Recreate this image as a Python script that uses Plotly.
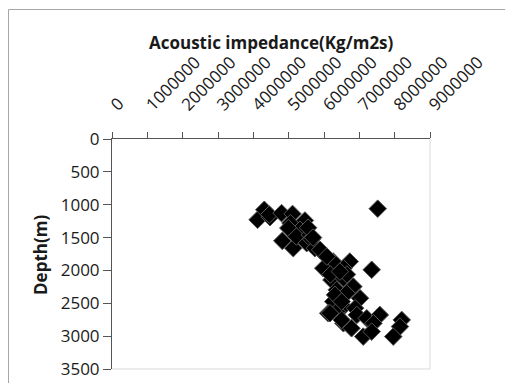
import plotly.graph_objects as go

# Acoustic impedance (Kg/m2s) and depth (m)
impedance = [
    7.52e6, 7.35e6, 4.12e6, 4.31e6, 4.47e6, 4.45e6, 4.80e6, 5.11e6, 5.05e6, 5.46e6,
    5.32e6, 4.99e6, 4.82e6, 5.13e6, 5.22e6, 5.60e6, 5.51e6, 5.65e6, 5.74e6, 5.98e6,
    6.26e6, 6.73e6, 5.98e6, 6.55e6, 6.21e6, 6.55e6, 6.83e6, 6.36e6, 6.64e6, 7.02e6,
    6.26e6, 6.55e6, 6.88e6, 6.12e6, 6.36e6, 6.93e6, 7.21e6, 7.58e6, 6.55e6, 6.78e6,
    7.40e6, 7.11e6, 7.35e6, 8.20e6, 8.15e6, 7.96e6, 6.18e6, 6.65e6, 6.31e6, 6.50e6,
    6.17e6, 6.50e6, 5.55e6, 5.69e6, 5.89e6, 6.08e6, 6.45e6,
]
depth = [
    1060, 1990, 1230, 1077, 1190, 1150, 1128, 1140, 1280, 1240,
    1382, 1356, 1550, 1661, 1484, 1458, 1585, 1530, 1661, 1737,
    1865, 1865, 1966, 1966, 2144, 2118, 2246, 2296, 2347, 2423,
    2474, 2550, 2575, 2651, 2627, 2677, 2728, 2677, 2804, 2880,
    2804, 3007, 2931, 2753, 2855, 3007, 2062, 2062, 2372, 2474,
    2651, 2753, 1350, 1500, 1687, 1789, 2017,
]

x_ticks = [0, 1000000, 2000000, 3000000, 4000000, 5000000, 6000000, 7000000, 8000000, 9000000]
y_ticks = [0, 500, 1000, 1500, 2000, 2500, 3000, 3500]

FONT = "Open Sans"
FS = 17
OFF = 8  # browser default page margin

fig = go.Figure()
fig.add_trace(go.Scatter(
    x=impedance, y=depth, mode="markers",
    marker=dict(symbol="diamond", size=13.5, color="black",
                line=dict(color="#555555", width=1)),
    showlegend=False, hoverinfo="skip",
))

fig.update_layout(
    width=513 - OFF, height=383 - OFF,
    margin=dict(l=112 - OFF, r=83, t=139 - OFF, b=14),
    paper_bgcolor="white", plot_bgcolor="white",
    font=dict(family=FONT, size=FS, color="#1a1a1a"),
    xaxis=dict(
        side="top", range=[0, 9000000], tickvals=x_ticks,
        ticktext=[str(v) for v in x_ticks], tickangle=-45,
        ticks="outside", ticklen=6, tickcolor="#555555", tickwidth=1,
        showline=True, linecolor="#555555", linewidth=1,
        showgrid=False, zeroline=False, automargin=False,
        ticklabelstandoff=11,
        tickfont=dict(family=FONT, size=FS, color="#1a1a1a"),
    ),
    yaxis=dict(
        range=[3500, 0], tickvals=y_ticks,
        ticktext=[str(v) for v in y_ticks],
        ticks="outside", ticklen=8, tickcolor="#555555", tickwidth=1,
        showline=True, linecolor="#555555", linewidth=1,
        showgrid=False, zeroline=False, automargin=False,
        tickfont=dict(family=FONT, size=FS, color="#1a1a1a"),
    ),
    shapes=[
        dict(type="rect", xref="paper", yref="paper",
             x0=(8.5 - 112) / 318, x1=(530 - 112) / 318,
             y0=-0.2, y1=(369 - 9.5) / 230,
             line=dict(color="#a6a6a6", width=1), layer="below"),
        dict(type="line", xref="paper", yref="paper", x0=1, x1=1, y0=0, y1=1,
             line=dict(color="#d9d9d9", width=1)),
        dict(type="line", xref="paper", yref="paper", x0=0, x1=1, y0=0, y1=0,
             line=dict(color="#d9d9d9", width=1)),
    ],
    annotations=[
        dict(text="<b>Acoustic impedance(Kg/m2s)</b>", xref="paper", yref="paper",
             x=(271 - 112) / 318, y=(369 - 42) / 230, showarrow=False,
             xanchor="center", yanchor="middle",
             font=dict(family=FONT, size=FS, color="#1a1a1a")),
        dict(text="<b>Depth(m)</b>", xref="paper", yref="paper",
             x=(40 - 112) / 318, y=(369 - 255) / 230, showarrow=False,
             textangle=-90, xanchor="center", yanchor="middle",
             font=dict(family=FONT, size=FS, color="#1a1a1a")),
    ],
)

fig.write_html("out.html")
